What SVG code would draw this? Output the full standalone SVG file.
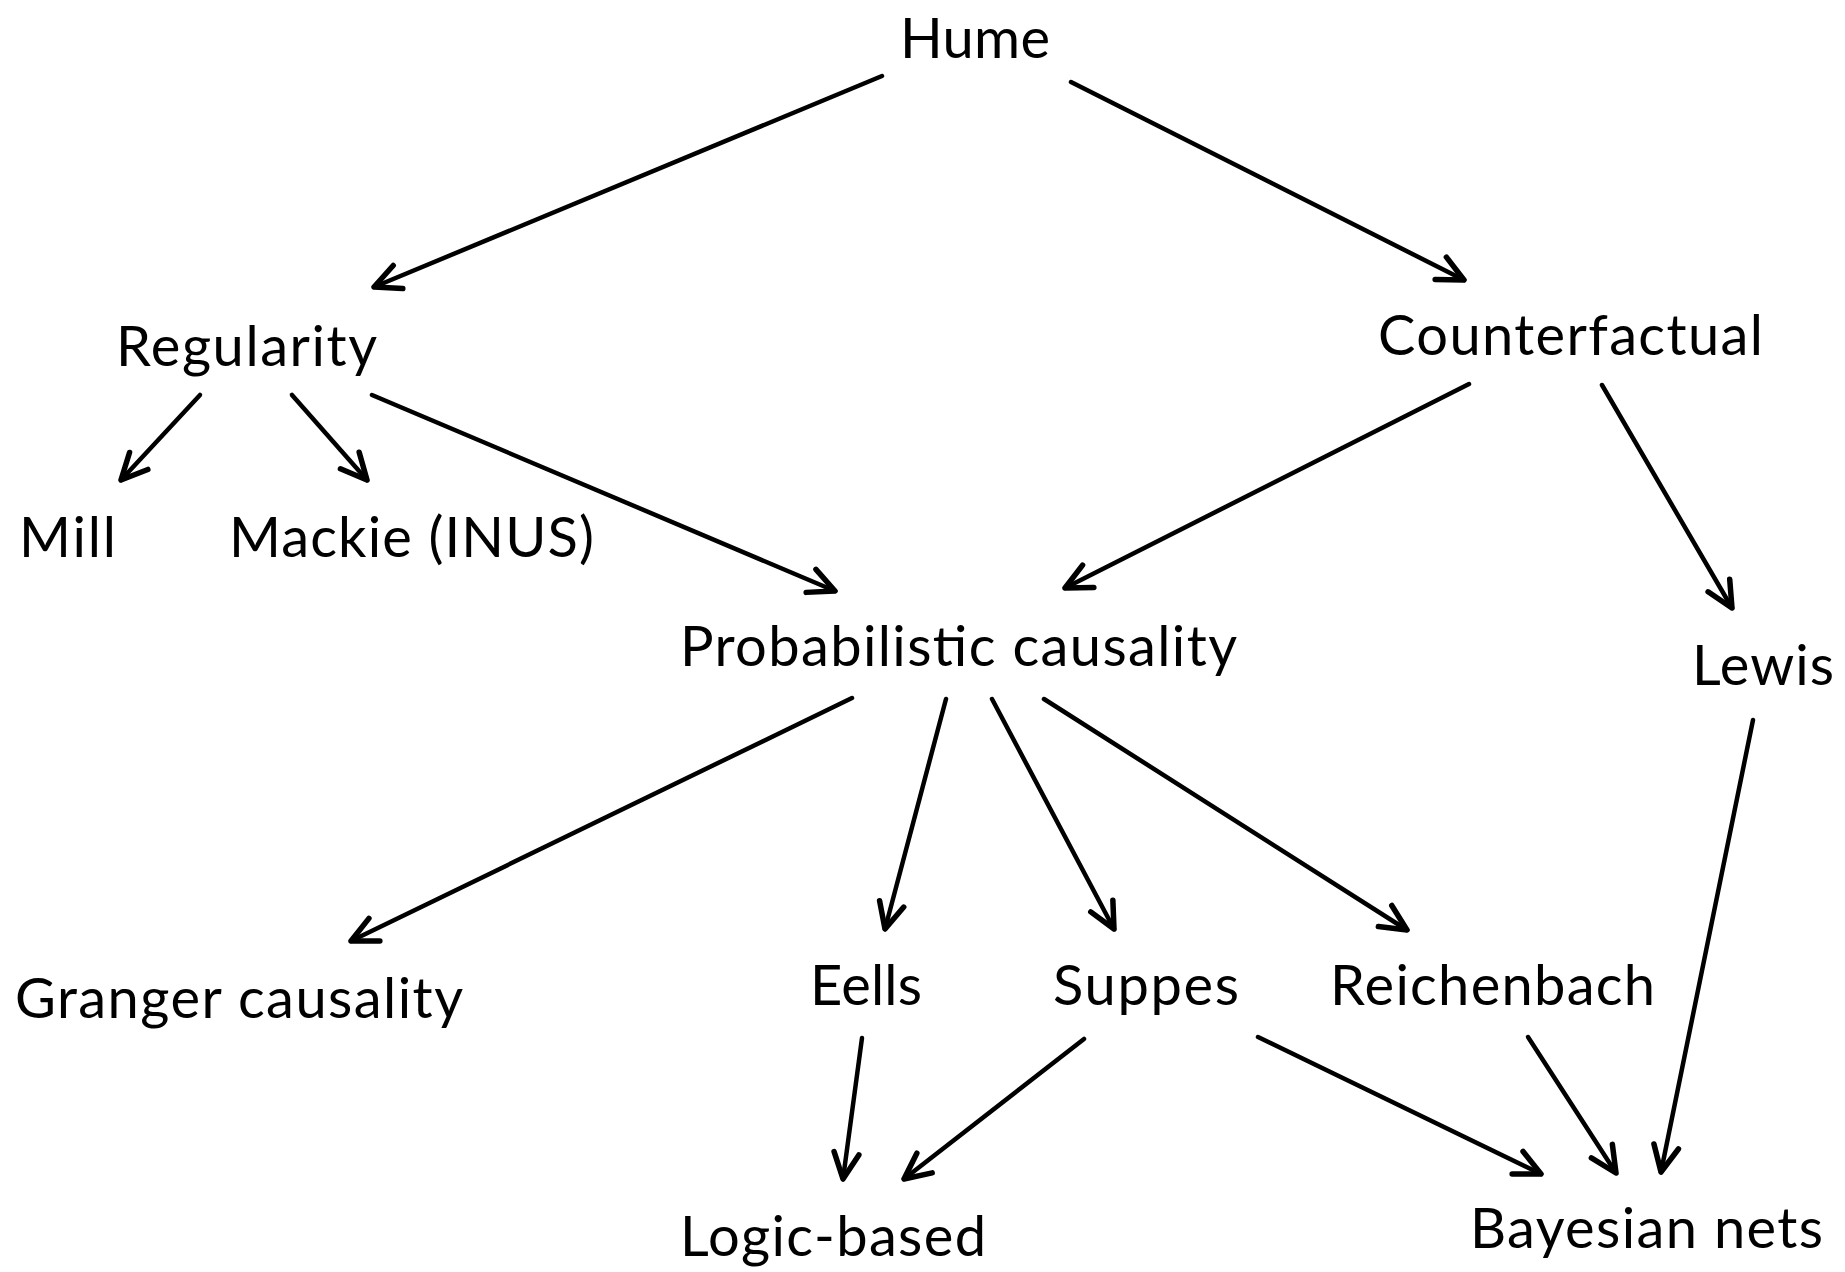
<svg xmlns="http://www.w3.org/2000/svg" width="1845" height="1272" viewBox="0 0 1845 1272">
  <style>
    .lbl { font-family: Lato, "Open Sans", "Liberation Sans", sans-serif; font-size: 56px; fill: #000; }
    .edge { fill: none; stroke: #000; stroke-width: 4.5; stroke-linecap: round; marker-end: url(#chev); }
  </style>
  <defs>
    <marker id="chev" markerUnits="userSpaceOnUse" viewBox="-32 -17 36 34" refX="0" refY="0" markerWidth="36" markerHeight="34" orient="auto" overflow="visible">
      <path d="M -26 -12.5 L 0 0 L -26 12.5" fill="none" stroke="#000" stroke-width="5.5" stroke-linecap="round" stroke-linejoin="round"/>
    </marker>
  </defs>
  <rect width="1845" height="1272" fill="#fff"/>

  <g id="connectors">
    <line class="edge" x1="882" y1="76" x2="374" y2="287"/>
    <line class="edge" x1="1071" y1="82" x2="1464" y2="280"/>
    <line class="edge" x1="200" y1="395" x2="121" y2="480"/>
    <line class="edge" x1="292" y1="395" x2="367" y2="480"/>
    <line class="edge" x1="372" y1="395" x2="835" y2="591"/>
    <line class="edge" x1="1469" y1="384" x2="1065" y2="588"/>
    <line class="edge" x1="1602" y1="385" x2="1732" y2="608"/>
    <line class="edge" x1="852" y1="698" x2="351" y2="941"/>
    <line class="edge" x1="946" y1="699" x2="885" y2="929"/>
    <line class="edge" x1="992" y1="699" x2="1114" y2="929"/>
    <line class="edge" x1="1044" y1="699" x2="1407" y2="930"/>
    <line class="edge" x1="1753" y1="720" x2="1661" y2="1172"/>
    <line class="edge" x1="862" y1="1038" x2="843" y2="1179"/>
    <line class="edge" x1="1084" y1="1039" x2="904" y2="1179"/>
    <line class="edge" x1="1258" y1="1037" x2="1541" y2="1174"/>
    <line class="edge" x1="1528" y1="1037" x2="1616" y2="1173"/>
  </g>

  <g id="hume"><text class="lbl" x="900" y="58" textLength="150">Hume</text></g>
  <g id="regularity"><text class="lbl" x="116" y="366" textLength="261">Regularity</text></g>
  <g id="counterfactual"><text class="lbl" x="1378" y="355" textLength="385">Counterfactual</text></g>
  <g id="mill"><text class="lbl" x="19" y="557" textLength="97">Mill</text></g>
  <g id="mackie"><text class="lbl" x="229" y="557" textLength="365">Mackie (INUS)</text></g>
  <g id="probabilistic"><text class="lbl" x="680" y="666" textLength="557">Probabilistic causality</text></g>
  <g id="lewis"><text class="lbl" x="1692" y="685" textLength="142">Lewis</text></g>
  <g id="granger"><text class="lbl" x="15" y="1018" textLength="448">Granger causality</text></g>
  <g id="eells"><text class="lbl" x="810" y="1005" textLength="112">Eells</text></g>
  <g id="suppes"><text class="lbl" x="1053" y="1005" textLength="186">Suppes</text></g>
  <g id="reichenbach"><text class="lbl" x="1330" y="1005" textLength="325">Reichenbach</text></g>
  <g id="logic"><text class="lbl" x="680" y="1256" textLength="306">Logic-based</text></g>
  <g id="bayesian"><text class="lbl" x="1470" y="1248" textLength="353">Bayesian nets</text></g>
</svg>
